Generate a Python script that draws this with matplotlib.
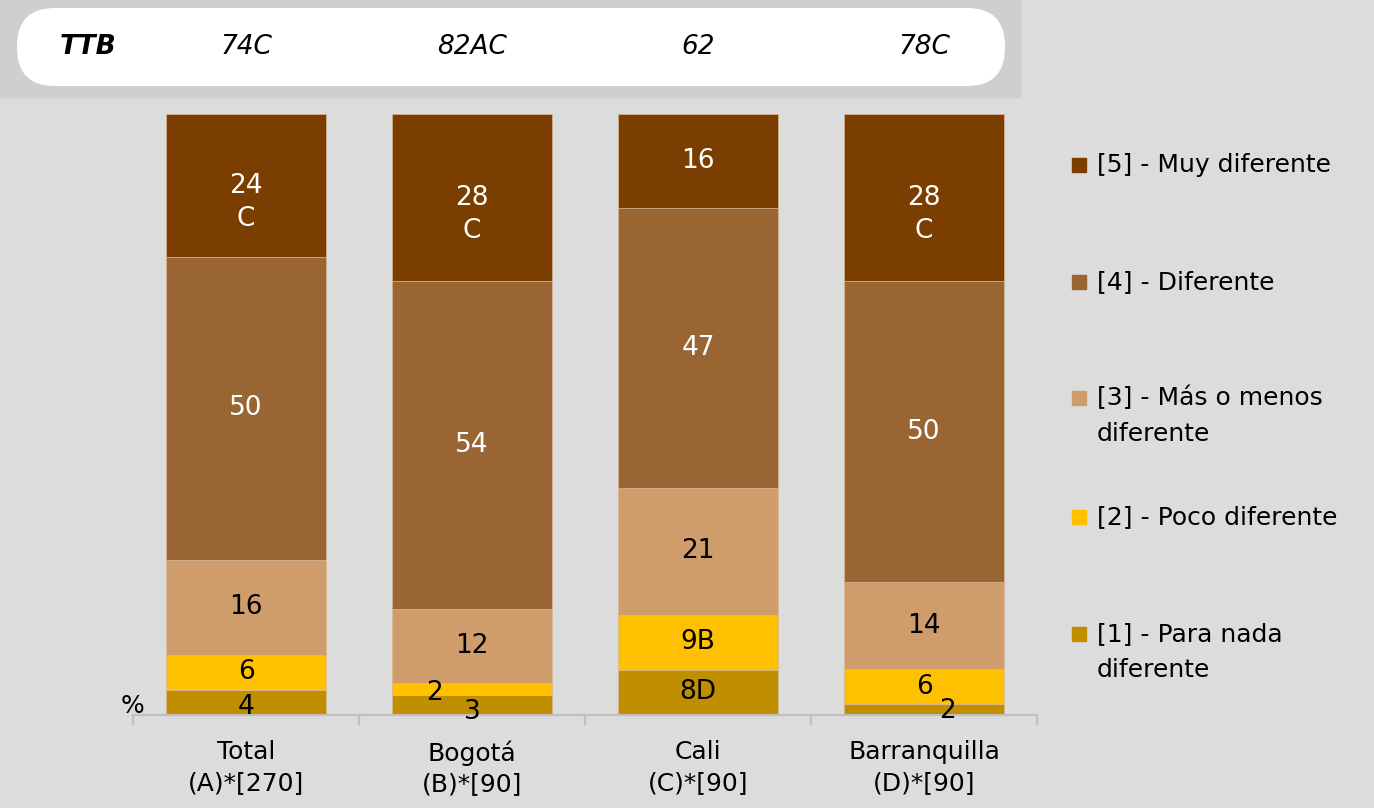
import matplotlib
matplotlib.use('Agg')
import matplotlib.pyplot as plt
import matplotlib.transforms as mtransforms
from matplotlib.patches import FancyBboxPatch, Rectangle

# categories (x axis) and TTB row
categories = ["Total\n(A)*[270]", "Bogotá\n(B)*[90]", "Cali\n(C)*[90]", "Barranquilla\n(D)*[90]"]
ttb_labels = ["74C", "82AC", "62", "78C"]

# levels, bottom to top of each bar
levels = ["[1] - Para nada\ndiferente", "[2] - Poco diferente",
          "[3] - Más o menos\ndiferente", "[4] - Diferente", "[5] - Muy diferente"]

# percentages per level (Total, Bogotá, Cali, Barranquilla)
nada = [4.2, 3.3, 7.5, 1.8]
poco = [5.8, 2.0, 9.2, 5.8]
mas_menos = [15.8, 12.4, 21.1, 14.5]
diferente = [50.4, 54.5, 46.6, 50.1]
muy = [23.8, 27.8, 15.6, 27.8]

# significance letters per level
sig_nada = ["", "", "D", ""]
sig_poco = ["", "", "B", ""]
sig_mas = ["", "", "", ""]
sig_dif = ["", "", "", ""]
sig_muy = ["C", "C", "", "C"]

series = [nada, poco, mas_menos, diferente, muy]
sigs = [sig_nada, sig_poco, sig_mas, sig_dif, sig_muy]
colors = ['#bf8f00', '#ffc000', '#cf9d6c', '#996633', '#7a3e00']
text_colors = ['black', 'black', 'black', 'white', 'white']

# small nudges (points), keyed by (level, category), for labels in thin segments
nudges = {(1, 1): (-27, -3), (0, 1): (0, -5), (0, 3): (17, -1), (0, 0): (0, -3)}

plt.rcParams['font.family'] = ['DejaVu Sans']

W, H = 1374, 808
fig = plt.figure(figsize=(W / 100, H / 100), dpi=100, facecolor='#dcdcdc')

# background layer in pixel coordinates
bg = fig.add_axes([0, 0, 1, 1])
bg.set_xlim(0, W)
bg.set_ylim(H, 0)
bg.axis('off')
bg.add_patch(Rectangle((0, 0), 1020, 97, color='#cfcfcf', zorder=1))
bg.add_patch(FancyBboxPatch((17, 8), 988, 78, boxstyle='round,pad=0,rounding_size=38',
                            facecolor='white', edgecolor='none', zorder=2))

ax = fig.add_axes([133 / W, 93 / H, 904 / W, 601 / H])
ax.set_facecolor('none')
x = list(range(len(categories)))
bottom = [0.0] * len(categories)
for i, vals in enumerate(series):
    ax.bar(x, vals, 0.708, bottom=bottom, color=colors[i], edgecolor='#d8b894', linewidth=0.5)
    for j, v in enumerate(vals):
        yc = bottom[j] + v / 2
        dx, dy = nudges.get((i, j), (0, 0))
        num = str(int(round(v)))
        letter = sigs[i][j]
        if letter and i == 4:
            ax.annotate(num, (j, yc), xytext=(dx, dy), textcoords='offset points',
                        ha='center', va='center', fontsize=19, color=text_colors[i])
            ax.annotate(letter, (j, yc), xytext=(dx, dy - 24), textcoords='offset points',
                        ha='center', va='center', fontsize=19, color=text_colors[i])
        else:
            ax.annotate(num + letter, (j, yc), xytext=(dx, dy), textcoords='offset points',
                        ha='center', va='center', fontsize=19, color=text_colors[i])
    bottom = [b + v for b, v in zip(bottom, vals)]

ax.set_xlim(-0.5, len(categories) - 0.5)
ax.set_ylim(0, 100)
for s in ['top', 'right', 'left']:
    ax.spines[s].set_visible(False)
ax.spines['bottom'].set_color('#bfbfbf')
ax.spines['bottom'].set_linewidth(1.5)
ax.set_yticks([])
ax.set_xticks(x)
ax.set_xticklabels(categories, fontsize=18, linespacing=1.35)
ax.set_xticks([k - 0.5 for k in range(len(categories) + 1)], minor=True)
ax.tick_params(axis='x', which='major', length=0, pad=18)
ax.tick_params(axis='x', which='minor', length=7, width=1.5, color='#bfbfbf')
ax.text(-0.45, 0.3, '%', ha='right', va='baseline', fontsize=18)

# TTB row aligned with the bars
trans = mtransforms.blended_transform_factory(ax.transData, bg.transData)
bg.text(88, 47, 'TTB', ha='center', va='center', fontsize=19, fontweight='bold', style='italic', zorder=3)
for j, t in enumerate(ttb_labels):
    bg.text(j, 47, t, transform=trans, ha='center', va='center', fontsize=19, style='italic', zorder=3)

# legend, top to bottom
leg_y = [165, 282, 398, 517, 634]
for k, yc in enumerate(leg_y):
    i = len(levels) - 1 - k
    bg.add_patch(Rectangle((1072, yc - 7), 14, 14, color=colors[i], zorder=3))
    for n, line in enumerate(levels[i].split('\n')):
        bg.text(1097, yc + 36 * n, line, ha='left', va='center', fontsize=18, zorder=3)

fig.savefig('out.png', dpi=100, facecolor=fig.get_facecolor())
plt.close(fig)
